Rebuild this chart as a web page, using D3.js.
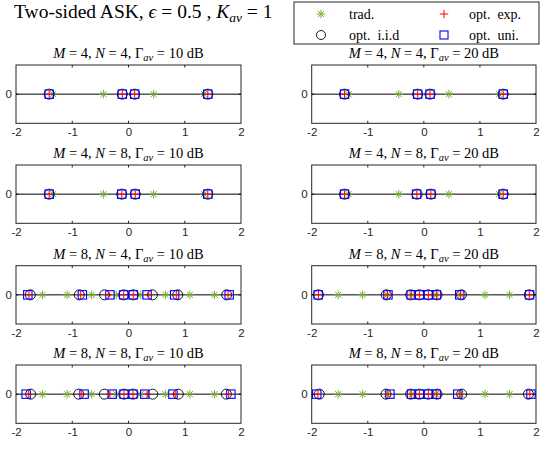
<!DOCTYPE html>
<html><head><meta charset="utf-8">
<script src="https://cdn.jsdelivr.net/npm/d3@7"></script>
<style>
body{margin:0;background:#fff;}
svg{display:block;}
</style></head>
<body>
<svg id="chart" width="553" height="449"></svg>
<script>
// ---- data ----
const xTicks = [-2, -1, 0, 1, 2];
const yTicks = [0];
const panelM = [4, 4, 4, 4, 8, 8, 8, 8];
const panelN = [4, 4, 8, 8, 4, 4, 8, 8];
const panelGamma = [10, 20, 10, 20, 10, 20, 10, 20];
const trad4 = [-1.342, -0.447, 0.447, 1.342];
const trad8 = [-1.528, -1.091, -0.655, -0.218, 0.218, 0.655, 1.091, 1.528];
const optExp = [
  [-1.41, -0.11, 0.11, 1.41],
  [-1.415, -0.11, 0.11, 1.415],
  [-1.41, -0.12, 0.12, 1.41],
  [-1.415, -0.125, 0.125, 1.415],
  [-1.77, -0.85, -0.36, -0.085, 0.085, 0.36, 0.85, 1.77],
  [-1.88, -0.65, -0.23, -0.08, 0.08, 0.23, 0.65, 1.88],
  [-1.78, -0.83, -0.33, -0.08, 0.08, 0.33, 0.83, 1.78],
  [-1.89, -0.64, -0.23, -0.08, 0.08, 0.23, 0.64, 1.89]
];
const optIid = [
  [-1.41, -0.11, 0.11, 1.41],
  [-1.415, -0.11, 0.11, 1.415],
  [-1.41, -0.12, 0.12, 1.41],
  [-1.415, -0.12, 0.125, 1.415],
  [-1.745, -0.875, -0.425, -0.085, 0.085, 0.425, 0.875, 1.745],
  [-1.88, -0.67, -0.235, -0.08, 0.08, 0.235, 0.67, 1.88],
  [-1.74, -0.885, -0.43, -0.08, 0.08, 0.43, 0.885, 1.74],
  [-1.865, -0.675, -0.235, -0.08, 0.08, 0.235, 0.675, 1.865]
];
const optUni = [
  [-1.41, -0.11, 0.11, 1.41],
  [-1.415, -0.11, 0.11, 1.415],
  [-1.41, -0.12, 0.12, 1.41],
  [-1.415, -0.13, 0.125, 1.415],
  [-1.79, -0.82, -0.33, -0.085, 0.085, 0.33, 0.82, 1.79],
  [-1.885, -0.64, -0.225, -0.08, 0.08, 0.225, 0.64, 1.885],
  [-1.82, -0.79, -0.29, -0.08, 0.08, 0.29, 0.79, 1.82],
  [-1.91, -0.605, -0.22, -0.08, 0.08, 0.22, 0.605, 1.91]
];
const legendLabels = ["trad.", "opt.  exp.", "opt.  i.i.d", "opt.  uni."];

// ---- styles ----
const GREEN = "#77AC30", RED = "#FF0000", BLUE = "#0000FF", AX = "#262626";
const SERIF = "'Liberation Serif','Times New Roman',serif";
const SANS = "'Liberation Sans',Arial,Helvetica,sans-serif";

const svg = d3.select("#chart");

// layout
const colX = [[16, 241], [311.7, 536]];
const rowTop = [65, 165, 265.7, 365];
const ph = 58.3;

function asteriskPath(r) {
  const d = r * Math.SQRT1_2;
  return `M${-r},0L${r},0M0,${-r}L0,${r}M${-d},${-d}L${d},${d}M${-d},${d}L${d},${-d}`;
}
function plusPath(r) { return `M${-r},0L${r},0M0,${-r}L0,${r}`; }

for (let p = 0; p < 8; p++) {
  const col = p % 2, row = Math.floor(p / 2);
  const [x0, x1] = colX[col];
  const y0 = rowTop[row], y1 = y0 + ph;
  const x = d3.scaleLinear().domain([-2, 2]).range([x0, x1]);
  const y = d3.scaleLinear().domain([-1, 1]).range([y1, y0]);
  const g = svg.append("g");

  // title
  const t = g.append("text").attr("x", (x0 + x1) / 2).attr("y", y0 - 7)
    .attr("text-anchor", "middle").attr("font-family", SERIF).attr("font-size", 14.5).attr("fill", "#000");
  t.append("tspan").attr("font-style", "italic").text("M");
  t.append("tspan").text(" = " + panelM[p] + ", ");
  t.append("tspan").attr("font-style", "italic").text("N");
  t.append("tspan").text(" = " + panelN[p] + ", Γ");
  t.append("tspan").attr("font-style", "italic").attr("font-size", 10.5).attr("dy", 3).text("av");
  t.append("tspan").attr("dy", -3).text(" = " + panelGamma[p] + " dB");

  // axes box
  g.append("rect").attr("x", x0).attr("y", y0).attr("width", x1 - x0).attr("height", ph)
    .attr("fill", "#fff").attr("stroke", AX).attr("stroke-width", 1);

  // x axis (bottom) with tick labels
  const xa = g.append("g").attr("transform", `translate(0,${y1})`)
    .call(d3.axisBottom(x).tickValues(xTicks).tickSize(0).tickPadding(5).tickFormat(d => d < 0 ? "-" + Math.abs(d) : String(d)));
  xa.select(".domain").remove();
  xa.selectAll("text").attr("font-family", SANS).attr("font-size", 11.5).attr("fill", AX);
  // inner ticks
  xTicks.slice(1, -1).forEach(v => {
    g.append("line").attr("x1", x(v)).attr("x2", x(v)).attr("y1", y1).attr("y2", y1 - 2.5).attr("stroke", AX);
    g.append("line").attr("x1", x(v)).attr("x2", x(v)).attr("y1", y0).attr("y2", y0 + 2.5).attr("stroke", AX);
  });
  // y axis
  const ya = g.append("g").attr("transform", `translate(${x0},0)`)
    .call(d3.axisLeft(y).tickValues(yTicks).tickSize(0).tickPadding(4).tickFormat(d => String(d)));
  ya.select(".domain").remove();
  ya.selectAll("text").attr("font-family", SANS).attr("font-size", 11.5).attr("fill", AX);
  yTicks.forEach(v => {
    g.append("line").attr("x1", x0).attr("x2", x0 + 2.5).attr("y1", y(v)).attr("y2", y(v)).attr("stroke", AX);
    g.append("line").attr("x1", x1).attr("x2", x1 - 2.5).attr("y1", y(v)).attr("y2", y(v)).attr("stroke", AX);
  });

  // zero line
  g.append("line").attr("x1", x(-2)).attr("x2", x(2)).attr("y1", y(0)).attr("y2", y(0))
    .attr("stroke", "#000").attr("stroke-width", 1);

  const trad = panelM[p] === 4 ? trad4 : trad8;
  g.selectAll(".trad").data(trad).join("path")
    .attr("transform", d => `translate(${x(d)},${y(0)})`)
    .attr("d", asteriskPath(4.3)).attr("stroke", GREEN).attr("stroke-width", 1).attr("fill", "none");
  g.selectAll(".iid").data(optIid[p]).join("circle")
    .attr("cx", d => x(d)).attr("cy", y(0)).attr("r", 5)
    .attr("stroke", "#000").attr("stroke-width", 0.9).attr("fill", "none");
  g.selectAll(".uni").data(optUni[p]).join("rect")
    .attr("x", d => x(d) - 4.2).attr("y", y(0) - 4.2).attr("width", 8.4).attr("height", 8.4)
    .attr("stroke", BLUE).attr("stroke-width", 1.1).attr("fill", "none");
  g.selectAll(".exp").data(optExp[p]).join("path")
    .attr("transform", d => `translate(${x(d)},${y(0)})`)
    .attr("d", plusPath(3.8)).attr("stroke", RED).attr("stroke-width", 1).attr("fill", "none");
}

// main title
const mt = svg.append("text").attr("x", 14).attr("y", 18).attr("font-family", SERIF)
  .attr("font-size", 19.5).attr("fill", "#000");
mt.append("tspan").text("Two-sided ASK, ");
mt.append("tspan").attr("font-style", "italic").text("ϵ");
mt.append("tspan").text(" = 0.5 , ");
mt.append("tspan").attr("font-style", "italic").text("K");
mt.append("tspan").attr("font-style", "italic").attr("font-size", 13.5).attr("dy", 4).text("av");
mt.append("tspan").attr("dy", -4).text(" = 1");

// legend
const lg = svg.append("g");
lg.append("rect").attr("x", 294).attr("y", 2).attr("width", 245).attr("height", 42)
  .attr("fill", "#fff").attr("stroke", AX).attr("stroke-width", 1);
const legPos = [[321, 14], [444, 14], [321, 35], [444, 35]];
const legTextX = [349, 469, 349, 469];
lg.append("path").attr("transform", `translate(${legPos[0][0]},${legPos[0][1]})`).attr("d", asteriskPath(4.3))
  .attr("stroke", GREEN).attr("fill", "none");
lg.append("path").attr("transform", `translate(${legPos[1][0]},${legPos[1][1]})`).attr("d", plusPath(4.2))
  .attr("stroke", RED).attr("fill", "none");
lg.append("circle").attr("cx", legPos[2][0]).attr("cy", legPos[2][1]).attr("r", 4.5)
  .attr("stroke", "#000").attr("stroke-width", 0.9).attr("fill", "none");
lg.append("rect").attr("x", legPos[3][0] - 4).attr("y", legPos[3][1] - 4).attr("width", 8).attr("height", 8)
  .attr("stroke", BLUE).attr("stroke-width", 1.1).attr("fill", "none");
legendLabels.forEach((s, i) => {
  lg.append("text").attr("x", legTextX[i]).attr("y", legPos[i][1] + 4.5).attr("font-family", SERIF)
    .attr("font-size", 14).attr("fill", "#000").attr("xml:space", "preserve").style("white-space", "pre").text(s);
});
</script>
</body></html>
